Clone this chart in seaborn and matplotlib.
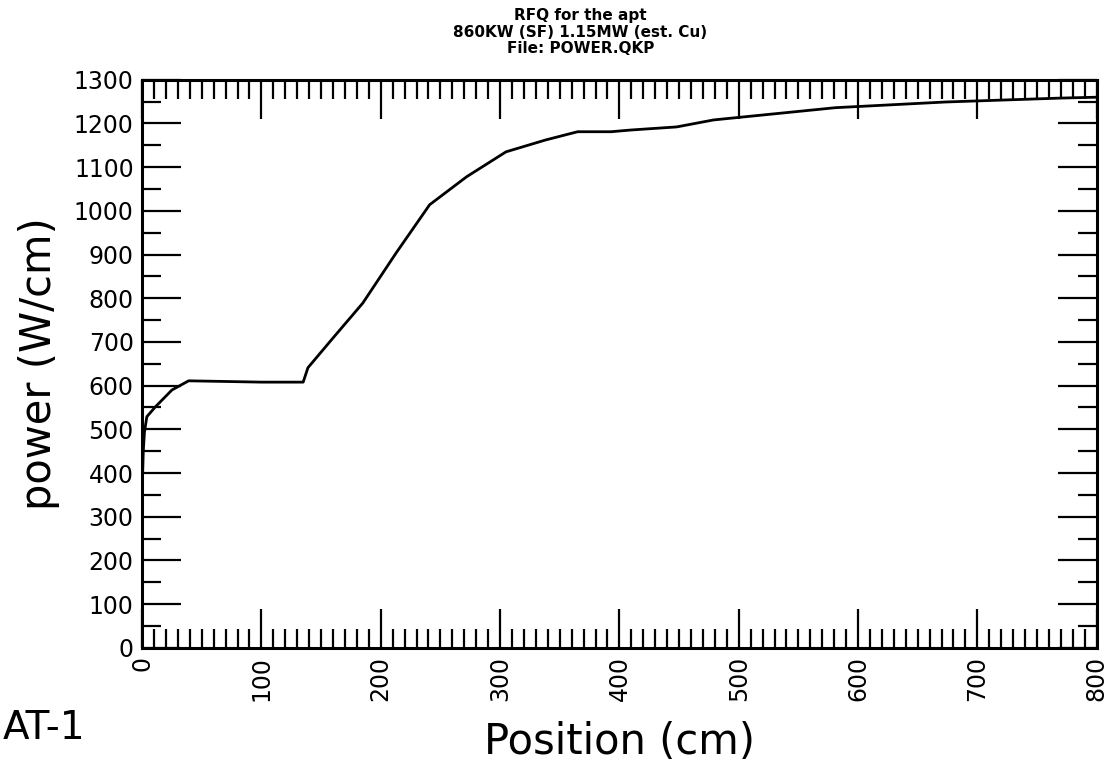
import matplotlib
matplotlib.use("Agg")
import matplotlib.pyplot as plt
from matplotlib.ticker import MultipleLocator
import pandas as pd
import seaborn as sns

# power along the RFQ
position_cm = [0, 1, 2, 4, 11, 25, 39, 60, 100, 135, 139, 160, 185, 213, 241,
               272, 305, 338, 365, 393, 410, 448, 479, 581, 673, 770, 800]
power_w_cm = [355, 450, 494, 529, 551, 590, 611, 610, 608, 608, 641, 709, 789,
              904, 1014, 1078, 1135, 1162, 1181, 1181, 1185, 1192, 1208, 1236,
              1249, 1258, 1260]

title_lines = ["RFQ for the apt", "860KW (SF) 1.15MW (est. Cu)", "File: POWER.QKP"]
y_ticks = list(range(0, 1301, 100))
x_ticks = list(range(0, 801, 100))

df = pd.DataFrame({"Position (cm)": position_cm, "power (W/cm)": power_w_cm})

sns.set_style("ticks")
plt.rcParams["font.family"] = ["DejaVu Sans"]
plt.rcParams["text.color"] = "black"
plt.rcParams["axes.labelcolor"] = "black"
plt.rcParams["xtick.color"] = "black"
plt.rcParams["ytick.color"] = "black"

fig = plt.figure(figsize=(11.1, 7.74), dpi=100)
ax = fig.add_axes([0.128, 0.163, 0.86, 0.734])

sns.lineplot(data=df, x="Position (cm)", y="power (W/cm)", ax=ax,
             color="black", linewidth=2)

ax.set_xlim(0, 800)
ax.set_ylim(0, 1300)
ax.set_xticks(x_ticks)
ax.set_yticks(y_ticks)
ax.set_xticklabels([str(v) for v in x_ticks], rotation=90, fontsize=17)
ax.set_yticklabels([str(v) for v in y_ticks], fontsize=17)
ax.xaxis.set_minor_locator(MultipleLocator(10))
ax.yaxis.set_minor_locator(MultipleLocator(50))

ax.tick_params(axis="both", which="major", direction="in", length=28, width=1.6,
               top=True, right=True, pad=6)
ax.tick_params(axis="both", which="minor", direction="in", length=14, width=1.6,
               top=True, right=True)
for spine in ax.spines.values():
    spine.set_visible(True)
    spine.set_linewidth(2.2)
    spine.set_color("black")

ax.set_xlabel("Position (cm)", fontsize=30, labelpad=14)
ax.set_ylabel("power (W/cm)", fontsize=30, labelpad=10)

fig.text(0.523, 0.99, "\n".join(title_lines), ha="center", va="top",
         fontsize=11, fontweight="bold", linespacing=1.15)
fig.text(0.002, 0.035, "AT-1", fontsize=28, ha="left", va="bottom")

fig.savefig("out.png", dpi=100)
